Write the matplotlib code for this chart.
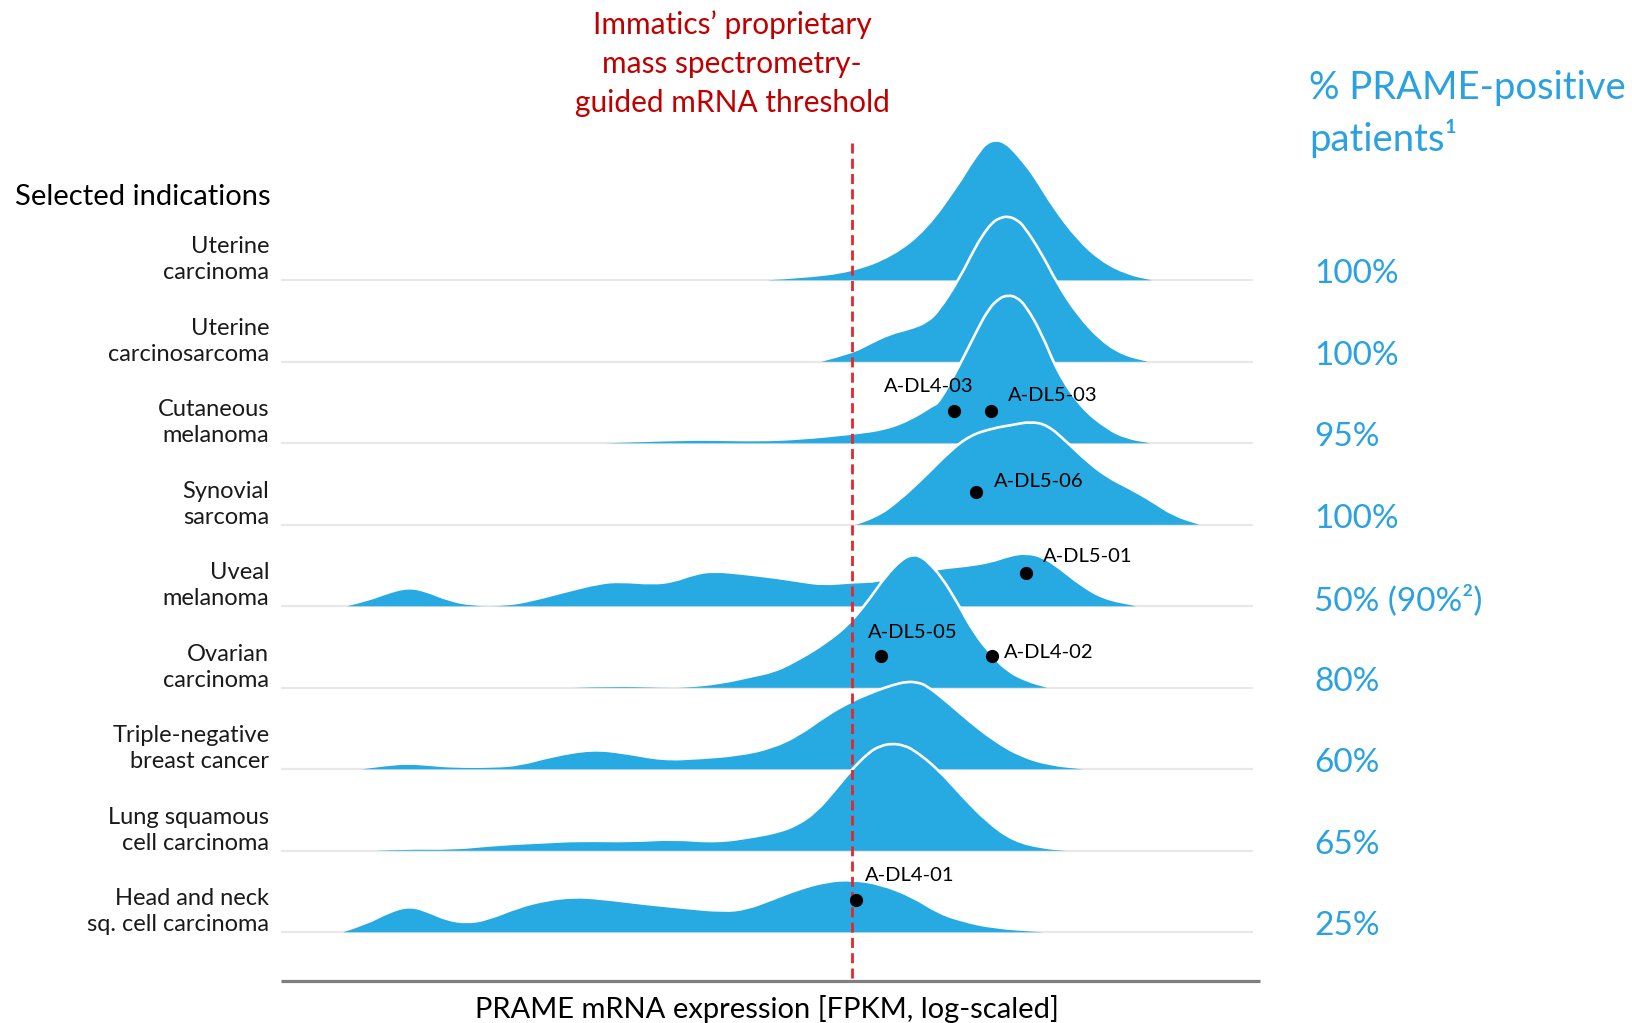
import numpy as np
import matplotlib as mpl
mpl.use('Agg')
import matplotlib.pyplot as plt
from matplotlib.path import Path
from matplotlib.patches import PathPatch, Rectangle

# ridge rows, top to bottom
indications = ["Uterine\ncarcinoma", "Uterine\ncarcinosarcoma", "Cutaneous\nmelanoma",
               "Synovial\nsarcoma", "Uveal\nmelanoma", "Ovarian\ncarcinoma",
               "Triple-negative\nbreast cancer", "Lung squamous\ncell carcinoma",
               "Head and neck\nsq. cell carcinoma"]
positive = ["100%", "100%", "95%", "100%", "50% (90%\u00b2)", "80%", "60%", "65%", "25%"]

# density outlines: x on a 0-100 log-expression scale, height in row units
x_uc = [50.0, 53.4, 58.7, 63.0, 66.5, 69.9, 70.9, 71.9, 72.6, 73.6, 74.5, 75.3, 76.3, 77.4, 79.4, 81.9, 84.3, 87.0, 89.6]
h_uc = [0.0, 0.02, 0.094, 0.29, 0.62, 1.19, 1.39, 1.56, 1.67, 1.71, 1.67, 1.58, 1.44, 1.27, 0.88, 0.49, 0.23, 0.065, 0.0]

x_ucs = [55.6, 58.7, 60.6, 62.7, 64.7, 66.5, 67.8, 69.9, 71.6, 72.5, 73.3, 74.0, 74.8, 75.6, 76.3, 78.1, 79.8, 81.9, 84.3, 86.6, 89.2]
h_ucs = [0.0, 0.094, 0.21, 0.33, 0.39, 0.47, 0.62, 1.01, 1.41, 1.58, 1.70, 1.75, 1.77, 1.73, 1.66, 1.33, 0.94, 0.56, 0.25, 0.074, 0.0]

x_cm = [33.3, 41.0, 44.4, 49.3, 53.4, 58.7, 62.3, 65.0, 67.1, 67.8, 69.9, 71.6, 72.9, 74.0, 74.8, 75.6, 76.5, 78.1, 79.8, 82.2, 85.0, 87.0, 89.4]
h_cm = [0.0, 0.03, 0.03, 0.02, 0.04, 0.10, 0.16, 0.29, 0.45, 0.49, 0.94, 1.35, 1.64, 1.77, 1.80, 1.78, 1.68, 1.35, 0.86, 0.43, 0.16, 0.05, 0.0]

x_ss = [59.2, 61.3, 63.7, 66.4, 68.8, 70.9, 73.3, 75.3, 77.1, 78.8, 80.8, 82.9, 85.0, 87.0, 89.4, 91.8, 94.5]
h_ss = [0.0, 0.08, 0.29, 0.59, 0.88, 1.08, 1.17, 1.21, 1.25, 1.21, 1.00, 0.76, 0.57, 0.45, 0.29, 0.10, 0.0]

x_um = [6.8, 9.2, 10.9, 13.1, 15.0, 17.0, 19.6, 23.2, 25.9, 29.4, 32.8, 34.9, 38.3, 40.4, 42.5, 44.5, 47.9,
        51.3, 53.4, 55.8, 58.7, 61.5, 64.7, 67.8, 70.5, 73.1, 75.0, 76.7, 78.4, 80.1, 82.2, 84.6, 88.0]
h_um = [0.0, 0.07, 0.15, 0.22, 0.17, 0.07, 0.0, 0.0, 0.06, 0.17, 0.27, 0.29, 0.26, 0.29, 0.38, 0.42, 0.38,
        0.33, 0.29, 0.25, 0.28, 0.29, 0.38, 0.45, 0.48, 0.53, 0.61, 0.64, 0.59, 0.45, 0.25, 0.08, 0.0]

x_oc = [30.1, 34.2, 39.3, 41.7, 45.2, 48.6, 50.6, 52.7, 56.2, 58.7, 60.6, 62.3, 64.0, 65.1, 65.8, 66.4, 67.8, 69.5, 71.2, 73.1, 74.7, 76.7, 78.8]
h_oc = [0.0, 0.015, 0.0, 0.0, 0.04, 0.13, 0.18, 0.29, 0.54, 0.79, 1.07, 1.36, 1.57, 1.62, 1.59, 1.54, 1.36, 1.03, 0.66, 0.38, 0.19, 0.07, 0.0]

x_tn = [8.3, 10.9, 13.1, 15.3, 17.7, 21.9, 24.6, 28.0, 32.0, 35.2, 39.3, 43.1, 47.2, 50.6, 53.4, 56.2,
        58.7, 61.3, 63.0, 64.4, 65.5, 66.4, 68.5, 70.9, 73.3, 76.0, 79.1, 82.5]
h_tn = [0.0, 0.04, 0.06, 0.04, 0.016, 0.016, 0.04, 0.15, 0.23, 0.19, 0.10, 0.12, 0.16, 0.25, 0.41, 0.65,
        0.82, 0.95, 1.02, 1.06, 1.05, 1.01, 0.81, 0.56, 0.34, 0.15, 0.04, 0.0]

x_lu = [9.8, 12.9, 17.7, 22.2, 27.3, 30.8, 35.9, 40.4, 44.8, 48.9, 51.3, 53.1, 55.1, 57.2, 58.7, 60.6,
        61.7, 62.8, 64.0, 65.1, 67.5, 69.9, 72.6, 75.3, 78.4, 80.8]
h_lu = [0.0, 0.016, 0.008, 0.06, 0.09, 0.11, 0.10, 0.13, 0.09, 0.16, 0.22, 0.30, 0.46, 0.75, 0.97, 1.20,
        1.27, 1.30, 1.28, 1.22, 0.99, 0.67, 0.34, 0.11, 0.02, 0.0]

x_hn = [6.4, 8.8, 11.2, 13.3, 15.3, 17.0, 19.1, 21.2, 24.6, 27.3, 30.1, 32.8, 37.6, 41.0, 45.5, 47.9,
        50.6, 53.4, 56.2, 58.7, 61.6, 65.0, 67.5, 69.9, 73.3, 78.4]
h_hn = [0.0, 0.09, 0.24, 0.31, 0.23, 0.14, 0.10, 0.14, 0.30, 0.38, 0.42, 0.40, 0.33, 0.29, 0.24, 0.27,
        0.39, 0.52, 0.61, 0.63, 0.58, 0.42, 0.23, 0.13, 0.04, 0.0]

curves = [(x_uc, h_uc), (x_ucs, h_ucs), (x_cm, h_cm), (x_ss, h_ss), (x_um, h_um),
          (x_oc, h_oc), (x_tn, h_tn), (x_lu, h_lu), (x_hn, h_hn)]

threshold = 58.7

# patient samples
dot_names = ["A-DL4-03", "A-DL5-03", "A-DL5-06", "A-DL5-01", "A-DL5-05", "A-DL4-02", "A-DL4-01"]
dot_row = [2, 2, 3, 4, 5, 5, 8]
dot_x = [69.2, 73.0, 71.5, 76.6, 61.7, 73.1, 59.2]
dot_h = [0.40, 0.40, 0.40, 0.41, 0.39, 0.39, 0.40]
label_off = [(-70, 24), (17, 15), (18, 11), (17, 16), (-13, 24), (12, 4), (9, 24)]

W, H = 1632, 1023
blue = '#27a9e1'
pct_blue = '#2aa1e0'
red_txt = '#c00000'


def smooth(x, y, close=False):
    # quadratic bezier through midpoints, the read points act as control points
    verts = [(x[0], y[0])]
    codes = [Path.MOVETO]
    for k in range(1, len(x) - 1):
        verts += [(x[k], y[k]), ((x[k] + x[k+1]) / 2, (y[k] + y[k+1]) / 2)]
        codes += [Path.CURVE3, Path.CURVE3]
    verts.append((x[-1], y[-1]))
    codes.append(Path.LINETO)
    if close:
        verts.append((x[0], y[0]))
        codes.append(Path.CLOSEPOLY)
    return Path(verts, codes)


plt.rcParams['font.family'] = ['Lato', 'DejaVu Sans']

fig = plt.figure(figsize=(W/100, H/100), dpi=100)
ax = fig.add_axes([0, 0, 1, 1])
# x: 0..100 spans the baseline, y: row index (baselines), inverted
ax.set_xlim(-281/9.72, (W-281)/9.72)
ax.set_ylim((H-280.3)/81.5, -280.3/81.5)
ax.axis('off')

for i, (xc, hc) in enumerate(curves):
    xc = np.array(xc)
    yc = i - np.array(hc)
    ax.plot([0, 100], [i, i], color='#e8e8e8', lw=1.6, zorder=0.5, solid_capstyle='butt')
    edge = PathPatch(smooth(xc, yc), facecolor='none', edgecolor='white', lw=3.8,
                     zorder=2 + 2*i, capstyle='butt', joinstyle='round')
    ax.add_patch(edge)
    clip = Rectangle((-50, i - 5), 200, 5 - 0.03, transform=ax.transData)
    edge.set_clip_path(clip)
    ax.add_patch(PathPatch(smooth(xc, yc, close=True), facecolor=blue, edgecolor='none',
                           zorder=3 + 2*i))
    ax.text(-1.2, i - 0.25, indications[i], ha='right', va='center', fontsize=17,
            linespacing=1.3, color='#1a1a1a')
    ax.text(106.3, i - 0.075, positive[i], ha='left', va='center', fontsize=24, color=pct_blue)

# bottom axis
ax.plot([0, 100.7], [8 + (981-932.3)/81.5]*2, color='#7f7f7f', lw=2.3, zorder=1,
        solid_capstyle='butt')
# threshold
ax.plot([threshold, threshold], [(143-280.3)/81.5, 8 + (981-932.3)/81.5], color='#e8262a',
        lw=2.0, dashes=(3.6, 1.9), zorder=40)

for n, r, x, h, off in zip(dot_names, dot_row, dot_x, dot_h, label_off):
    ax.plot(x, r - h, 'o', color='black', ms=8.5, zorder=50)
    ax.annotate(n, (x, r - h), xytext=off, textcoords='offset pixels', ha='left', va='center',
                fontsize=14.5, color='black', zorder=60)

fig.text(732/W, 1 - 25/H, "Immatics\u2019 proprietary", ha='center', va='center', fontsize=21.5, color=red_txt)
fig.text(732/W, 1 - 64/H, "mass spectrometry-", ha='center', va='center', fontsize=21.5, color=red_txt)
fig.text(732/W, 1 - 103/H, "guided mRNA threshold", ha='center', va='center', fontsize=21.5, color=red_txt)
fig.text(15/W, 1 - 197/H, "Selected indications", ha='left', va='center', fontsize=21, color='black')
fig.text(1309/W, 1 - 88/H, "% PRAME-positive", ha='left', va='center', fontsize=27.5, color=pct_blue)
fig.text(1309/W, 1 - 139/H, "patients\u00b9", ha='left', va='center', fontsize=27.5, color=pct_blue)
fig.text(767/W, 1 - 1009/H, "PRAME mRNA expression [FPKM, log-scaled]", ha='center', va='center',
         fontsize=21, color='black')

fig.savefig("out.png", dpi=100)
